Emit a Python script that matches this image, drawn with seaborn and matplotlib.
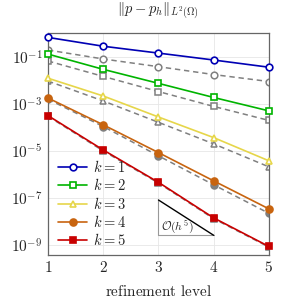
import numpy as np
import pandas as pd
import matplotlib
matplotlib.use("Agg")
import matplotlib.pyplot as plt
import seaborn as sns

levels = [1, 2, 3, 4, 5]
k_labels = ["$k=1$", "$k=2$", "$k=3$", "$k=4$", "$k=5$"]
err_k1 = [0.69, 0.29, 0.148, 0.075, 0.037]
err_k2 = [0.134, 0.030, 0.0076, 0.0019, 0.00051]
err_k3 = [0.0126, 0.0022, 0.00028, 3.7e-5, 3.8e-6]
err_k4 = [0.0018, 1.3e-4, 8.5e-6, 5.3e-7, 3.4e-8]
err_k5 = [3.2e-4, 1.1e-5, 4.6e-7, 1.4e-8, 8.5e-10]
ref_k1 = [0.20, 0.083, 0.039, 0.018, 0.0091]
ref_k2 = [0.068, 0.015, 0.0034, 0.00079, 0.0002]
ref_k3 = [0.0095, 0.00135, 0.000166, 2.0e-5, 2.1e-6]
ref_k4 = [0.0016, 1.1e-4, 6.2e-6, 3.6e-7, 2.2e-8]
ref_k5 = [3.0e-4, 1.0e-5, 4.3e-7, 1.3e-8, 8.0e-10]
yticks = [1e-1, 1e-3, 1e-5, 1e-7, 1e-9]
ytick_labels = ["$10^{-1}$", "$10^{-3}$", "$10^{-5}$", "$10^{-7}$", "$10^{-9}$"]
tri_top = 10 ** -7.09
tri_bottom = 10 ** -8.595

sns.set_theme(style="white")
plt.rcParams["mathtext.fontset"] = "cm"
plt.rcParams["font.family"] = ["DejaVu Serif"]

colors = ["#0000b4", "#00b400", "#e6d64a", "#c8640f", "#c80000"]
markers = ["o", "s", "^", "o", "s"]
msizes = [4.8, 4.6, 4.8, 5.0, 4.8]
filled = [False, False, False, True, True]
errs = [err_k1, err_k2, err_k3, err_k4, err_k5]
refs = [ref_k1, ref_k2, ref_k3, ref_k4, ref_k5]
gray = "#808080"

fig = plt.figure(figsize=(2.91, 3.02), dpi=100)
ax = fig.add_axes([0.165, 0.156, 0.759, 0.735])

for i in range(5):
    df = pd.DataFrame({"level": levels, "err": refs[i]})
    sns.lineplot(data=df, x="level", y="err", ax=ax, color=gray, lw=1.1,
                 linestyle=(0, (3.5, 2.5)), marker=markers[i], markersize=msizes[i],
                 markerfacecolor=gray if filled[i] else "white",
                 markeredgecolor=gray, markeredgewidth=1.1, legend=False, zorder=2)

handles = []
for i in range(5):
    df = pd.DataFrame({"level": levels, "err": errs[i]})
    sns.lineplot(data=df, x="level", y="err", ax=ax, color=colors[i], lw=1.2,
                 marker=markers[i], markersize=msizes[i],
                 markerfacecolor=colors[i] if filled[i] else "white",
                 markeredgecolor=colors[i], markeredgewidth=1.2, legend=False,
                 zorder=3, clip_on=False)
    handles.append(ax.lines[-1])

ax.set_yscale("log")
ax.set_xlim(1, 5)
ax.set_ylim(10 ** -9.43, 10 ** 0.03)
ax.set_xticks(levels)
ax.set_xticklabels([f"${v}$" for v in levels], fontsize=11)
ax.set_yticks(yticks)
ax.set_yticklabels(ytick_labels, fontsize=11)
ax.yaxis.set_minor_locator(matplotlib.ticker.NullLocator())
ax.grid(True, color="#e6e6e6", lw=0.6)
ax.tick_params(axis="both", direction="in", length=3, color="#555555", pad=4)
for s in ax.spines.values():
    s.set_color("#666666")
    s.set_linewidth(0.9)

# slope triangle
ax.plot([3, 3, 4], [tri_top, tri_bottom, tri_bottom], color="#999999", lw=0.8, zorder=2)
ax.plot([3, 4], [tri_top, tri_bottom], color="black", lw=1.0, zorder=2)
ax.text(3.05, 10 ** -8.25, r"$\mathcal{O}(h^5)$", fontsize=8.5, va="center", ha="left")

ax.set_ylabel("")
ax.set_xlabel(r"$\mathrm{refinement\ level}$", fontsize=11, labelpad=6)
ax.set_title(r"$\Vert p - p_h\Vert_{L^2(\Omega)}$", fontsize=10.5, pad=14)

ax.legend(handles, k_labels, loc="lower left", bbox_to_anchor=(0.0, -0.015), frameon=False,
          fontsize=10.5, handlelength=2.0, handletextpad=0.4, labelspacing=0.15,
          borderaxespad=0.3)

fig.savefig("out.png", dpi=100)
